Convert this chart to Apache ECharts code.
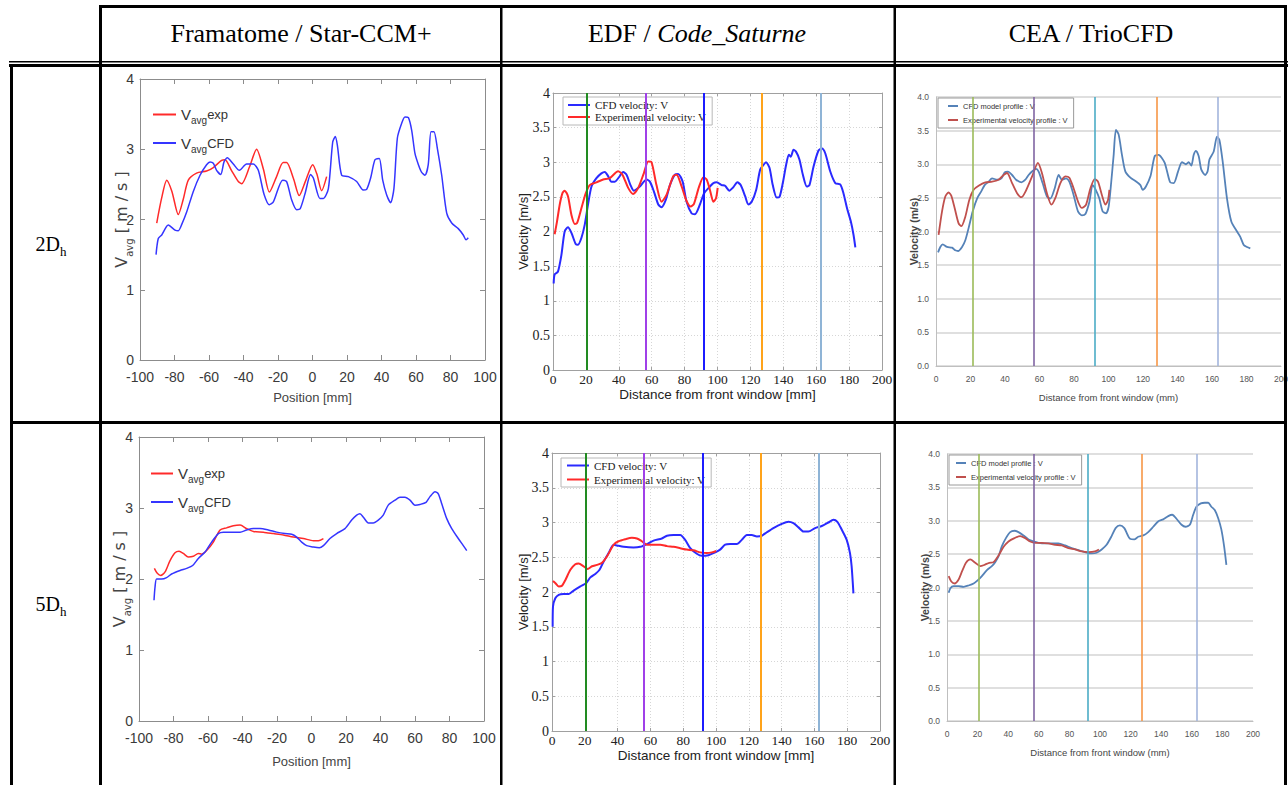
<!DOCTYPE html>
<html><head><meta charset="utf-8">
<script src="https://cdn.jsdelivr.net/npm/echarts@6/dist/echarts.min.js"></script>
<style>html,body{margin:0;padding:0;background:#fff;}#c{width:1288px;height:785px;}</style>
</head><body><div id="c"></div>
<script>
// ---------- text ----------
const headers = ['Framatome / Star-CCM+', 'EDF / ', 'Code_Saturne', 'CEA / TrioCFD'];
const rowLabels = ['2D', '5D'];
const rowSub = 'h';
// ---------- axis ranges [min,max,interval] ----------
const fraX = [-100, 100, 20];
const fraY = [0, 4, 1];
const edfX = [0, 200, 20];
const edfY = [0, 4, 0.5];
const ceaX = [0, 200, 20];
const ceaY = [0, 4, 0.5];
// ---------- vertical measurement planes (mm) ----------
const edfPlanes2 = [20.6, 56.1, 91.8, 127.2, 162.7];
const edfPlanes5 = [20.6, 56.2, 91.8, 127.3, 162.8];
const ceaPlanes2 = [21.3, 56.6, 92.2, 127.7, 163.1];
const ceaPlanes5 = [20.7, 56.5, 92.0, 127.2, 163.0];
// ---------- 2Dh data ----------
const fraExp2 = [[-90.3,1.95],[-87.5,2.3],[-84.5,2.56],[-81.5,2.4],[-77.8,2.07],[-75,2.28],[-72,2.56],[-67.2,2.66],[-61.4,2.69],[-57.5,2.74],[-52.7,2.84],[-50.7,2.85],[-47,2.7],[-43,2.54],[-41,2.51],[-36.5,2.75],[-32.4,3.0],[-28.5,2.72],[-25,2.39],[-21,2.6],[-17,2.81],[-15,2.81],[-11,2.58],[-7.7,2.34],[-4,2.55],[0.1,2.78],[2.5,2.65],[5.3,2.41],[8.2,2.61]];
const fraCfd2 = [[-90.7,1.50],[-89.4,1.73],[-87.4,1.78],[-83.6,1.92],[-79.7,1.85],[-77.8,1.84],[-75.8,1.93],[-72.9,2.11],[-69.1,2.40],[-65.2,2.63],[-61.4,2.78],[-59.4,2.82],[-57.5,2.80],[-55.6,2.70],[-53.2,2.64],[-51.3,2.82],[-49.4,2.88],[-45.9,2.79],[-42.4,2.70],[-38.2,2.79],[-34.3,2.79],[-31.4,2.70],[-28.1,2.36],[-25.0,2.21],[-22.7,2.25],[-17.3,2.56],[-15,2.54],[-12.1,2.28],[-9.2,2.14],[-7.2,2.15],[-4.3,2.37],[-1.1,2.64],[0.5,2.59],[4.3,2.30],[6.3,2.30],[9.2,2.44],[11.7,3.10],[13.2,3.18],[14.4,3.06],[16.9,2.63],[20.8,2.61],[25.6,2.54],[29.4,2.42],[31.4,2.43],[33.7,2.59],[36.2,2.85],[38.7,2.87],[40.7,2.56],[43,2.35],[45.3,2.24],[47.2,2.44],[49.2,3.16],[51.7,3.37],[53.6,3.46],[55.6,3.45],[57.5,3.27],[59.4,2.94],[61.4,2.78],[63.3,2.67],[65.2,2.63],[67.1,2.78],[68.7,3.25],[70.4,3.25],[72.4,3.01],[74.9,2.63],[77.8,2.09],[80.7,1.95],[84.5,1.87],[87.4,1.78],[89,1.71],[90.3,1.74]];
const edfCfd2 = [[0.4,1.25],[1.0,1.38],[3.0,1.42],[5.1,1.66],[7.1,2.0],[9.1,2.06],[11.2,1.98],[13.8,1.82],[15.2,1.81],[17.3,1.91],[19.3,2.10],[21.3,2.39],[23.4,2.65],[26.4,2.77],[29.4,2.84],[31.5,2.86],[33.5,2.80],[35.5,2.72],[37.6,2.72],[40.6,2.80],[42.6,2.86],[44.7,2.82],[47.1,2.67],[49.1,2.59],[52.8,2.65],[56.9,2.75],[58.9,2.72],[61.3,2.58],[64,2.39],[66,2.35],[68.6,2.46],[71.1,2.67],[74.1,2.82],[76.1,2.83],[78.8,2.72],[81.2,2.43],[84.3,2.26],[86.3,2.25],[89.3,2.39],[91.8,2.55],[95.4,2.65],[97.5,2.70],[99.5,2.71],[102.5,2.67],[104.6,2.66],[107.2,2.59],[109.6,2.64],[112.1,2.71],[114.1,2.67],[116.8,2.51],[118.8,2.39],[120.8,2.43],[123.5,2.60],[125.9,2.89],[127.9,2.96],[129.5,3.0],[131.6,2.92],[133.6,2.67],[136.0,2.49],[137.7,2.50],[139.7,2.70],[141.7,2.96],[143.4,3.11],[144.6,3.08],[146.2,3.18],[147.8,3.15],[149.8,3.04],[151.9,2.82],[154.3,2.65],[155.9,2.67],[158.4,2.94],[161.4,3.17],[163.5,3.20],[165.5,3.13],[168.5,2.87],[171.6,2.70],[174.6,2.68],[176.6,2.55],[178.7,2.34],[181.1,2.14],[182.7,1.95],[183.8,1.77]];
const edfExp2 = [[1.0,1.96],[2.4,2.14],[4.1,2.39],[5.7,2.55],[7.1,2.59],[9.1,2.51],[11.2,2.24],[13.2,2.11],[14.6,2.12],[17.3,2.34],[19.9,2.55],[22.3,2.67],[26.4,2.71],[30.5,2.75],[34.5,2.77],[39.6,2.87],[42.2,2.82],[45.7,2.63],[48.7,2.54],[51.8,2.63],[55.2,2.84],[57.9,3.01],[59.9,3.0],[62.9,2.67],[66,2.43],[69,2.53],[73.1,2.80],[75.1,2.82],[78.2,2.65],[81.2,2.44],[83.7,2.36],[85.7,2.40],[88.7,2.64],[91.4,2.78],[93.4,2.75],[95.4,2.60],[97.5,2.43],[99.1,2.48],[100.1,2.63]];
const ceaCfd2 = [[1.2,1.69],[2.5,1.77],[3.9,1.81],[6.4,1.77],[9.3,1.76],[11.2,1.72],[12.8,1.71],[15.1,1.77],[17,1.87],[18.9,2.05],[21.3,2.30],[23.8,2.49],[26.3,2.60],[28.2,2.69],[30.5,2.74],[32.5,2.79],[35.4,2.77],[37.9,2.79],[39.8,2.88],[41.7,2.89],[44.1,2.84],[46.4,2.77],[49.5,2.73],[51.8,2.77],[53.7,2.84],[56.0,2.90],[58.0,2.93],[59.5,2.89],[61.8,2.72],[64.3,2.52],[66.3,2.49],[68.8,2.64],[71.1,2.84],[73.0,2.77],[75.4,2.79],[77.3,2.74],[79.8,2.54],[82.3,2.30],[84.6,2.24],[86.6,2.26],[88.9,2.44],[90.8,2.69],[92.4,2.63],[94.7,2.49],[96.6,2.30],[98.6,2.27],[100.1,2.37],[101.6,2.74],[103.0,3.14],[104.3,3.51],[105.9,3.44],[107.8,3.14],[109.8,2.89],[112.7,2.80],[115.6,2.75],[118.5,2.69],[119.8,2.62],[121.7,2.67],[124.3,2.82],[126.8,3.12],[129.1,3.14],[131.0,3.09],[132.6,3.02],[133.9,2.90],[135.8,2.73],[137.8,2.72],[140.3,2.89],[142.6,3.03],[144.9,3.00],[146.5,3.03],[148.0,2.98],[149.4,3.14],[150.7,3.20],[152.3,3.12],[153.8,2.92],[156.1,2.84],[157.5,2.90],[158.5,3.07],[161.0,3.19],[162.9,3.41],[164.3,3.36],[166.2,3.04],[168.7,2.49],[171.2,2.15],[174.5,2.00],[176.4,1.92],[178.4,1.80],[180.3,1.77],[182.2,1.75]];
const ceaExp2 = [[1.5,1.95],[3.5,2.30],[5.4,2.52],[7.3,2.58],[8.9,2.53],[10.8,2.35],[13.1,2.12],[14.7,2.08],[17,2.22],[19.3,2.47],[21.8,2.62],[24.7,2.68],[28.6,2.73],[32.5,2.74],[36.3,2.77],[39.2,2.84],[41.2,2.87],[44.1,2.72],[47,2.57],[49.5,2.51],[51.8,2.59],[55.7,2.82],[59.1,3.02],[61.4,2.87],[64.3,2.57],[66.9,2.40],[69.2,2.50],[72.1,2.72],[75.0,2.82],[77.3,2.80],[79.8,2.64],[82.7,2.42],[84.6,2.35],[87.0,2.40],[89.5,2.64],[92.0,2.78],[93.9,2.74],[96.2,2.54],[98.2,2.40],[99.7,2.47],[100.5,2.62]];
// ---------- 5Dh data ----------
const fraExp5 = [[-91.1,2.15],[-89.4,2.08],[-87.4,2.05],[-84.9,2.10],[-82.0,2.26],[-79.1,2.37],[-76.8,2.39],[-74.3,2.36],[-71.4,2.31],[-68.5,2.32],[-65.6,2.36],[-63.7,2.35],[-60.8,2.40],[-56.9,2.52],[-53.0,2.69],[-49.2,2.72],[-45.3,2.75],[-41.4,2.76],[-37.6,2.71],[-33.7,2.67],[-27.9,2.66],[-22.1,2.64],[-16.3,2.62],[-10.5,2.59],[-4.7,2.57],[1.1,2.54],[4.0,2.54],[6.9,2.57]];
const fraCfd5 = [[-91.3,1.70],[-90.7,1.89],[-89.8,2.0],[-86.9,2.0],[-84.0,2.02],[-81.1,2.07],[-76.2,2.12],[-72.4,2.15],[-68.9,2.19],[-65.6,2.29],[-61.7,2.38],[-57.9,2.52],[-54.0,2.64],[-51.1,2.66],[-46.3,2.66],[-41.4,2.66],[-37.6,2.69],[-33.7,2.71],[-29.9,2.71],[-25.0,2.69],[-20.2,2.66],[-15.4,2.64],[-11.5,2.63],[-8.6,2.59],[-5.7,2.52],[-2.8,2.47],[1.1,2.45],[4.5,2.44],[6.9,2.47],[10.7,2.57],[14.6,2.64],[19.4,2.71],[23.3,2.83],[26.2,2.90],[28.1,2.92],[30.1,2.87],[33.0,2.79],[35.8,2.79],[38.7,2.83],[41.6,2.90],[44.5,3.04],[48.4,3.11],[51.3,3.15],[54.2,3.15],[57.1,3.11],[60.0,3.04],[62.9,3.05],[66.4,3.08],[68.7,3.16],[71.6,3.23],[73.5,3.20],[75.5,3.06],[78.4,2.85],[81.3,2.71],[85.1,2.57],[88.0,2.47],[90.0,2.40]];
const edfCfd5 = [[0.4,1.50],[0.6,1.79],[2.0,1.91],[4.1,1.96],[7.1,1.97],[10.2,1.97],[13.2,2.02],[17.3,2.08],[20.9,2.13],[23.4,2.21],[26.4,2.26],[29.0,2.32],[31.5,2.44],[34.5,2.56],[37.6,2.68],[39.6,2.67],[43.7,2.65],[49.7,2.64],[53.8,2.65],[57.9,2.69],[61.9,2.74],[67.0,2.77],[70.1,2.81],[74.1,2.82],[78.2,2.82],[81.2,2.75],[84.3,2.63],[88.3,2.55],[91.4,2.52],[95.4,2.53],[99.5,2.57],[102.5,2.61],[105.6,2.68],[108.6,2.69],[112.7,2.69],[115.7,2.75],[118.8,2.82],[121.8,2.82],[124.9,2.80],[127.9,2.81],[131.0,2.86],[135.0,2.92],[140.1,2.98],[144.2,3.01],[147.2,2.99],[150.3,2.93],[153.3,2.87],[156.3,2.87],[160.4,2.92],[164.5,2.95],[168.5,3.0],[171.6,3.04],[174.0,3.01],[176.6,2.90],[179.7,2.75],[181.7,2.56],[182.7,2.37],[183.8,1.98]];
const edfExp5 = [[0.6,2.16],[2.0,2.13],[4.1,2.08],[6.1,2.09],[8.1,2.17],[11.2,2.32],[14.2,2.40],[16.2,2.41],[19.3,2.37],[21.7,2.33],[24.4,2.37],[27.4,2.39],[30.5,2.42],[33.5,2.51],[37.6,2.68],[40.6,2.73],[44.7,2.76],[48.7,2.78],[51.8,2.77],[54.8,2.73],[57.9,2.68],[61.9,2.68],[66.0,2.68],[70.1,2.66],[74.1,2.65],[78.2,2.63],[82.2,2.61],[86.3,2.60],[90.4,2.57],[94.4,2.56],[97.5,2.57],[100.1,2.59]];
const ceaCfd5 = [[1.1,1.92],[2.2,1.99],[4.3,2.02],[7.6,2.02],[10.9,2.01],[14.1,2.03],[17.4,2.06],[20.2,2.11],[22.8,2.17],[26.1,2.26],[29.3,2.32],[31.5,2.38],[33.7,2.47],[35.9,2.62],[38.5,2.74],[41.3,2.83],[44.1,2.85],[46.7,2.83],[50.0,2.78],[53.3,2.72],[56.5,2.69],[59.8,2.67],[64.1,2.66],[68.5,2.66],[72.8,2.66],[77.2,2.63],[81.5,2.59],[85.9,2.56],[90.2,2.53],[94.6,2.51],[97.8,2.52],[101.1,2.57],[104.3,2.64],[107.6,2.77],[110.2,2.89],[113.0,2.93],[115.9,2.89],[118.0,2.79],[119.6,2.73],[122.4,2.72],[125.0,2.76],[128.3,2.78],[131.5,2.83],[134.8,2.91],[138.0,2.99],[141.3,3.02],[144.6,3.07],[147.2,3.09],[150.0,3.03],[153.3,2.94],[155.9,2.91],[158.7,2.94],[160.9,3.09],[163.0,3.21],[165.9,3.26],[168.5,3.27],[170.7,3.27],[172.8,3.21],[175.0,3.16],[177.2,3.04],[179.3,2.87],[181.1,2.62],[182.6,2.34]];
const ceaExp5 = [[1.1,2.17],[2.8,2.09],[5.0,2.06],[7.6,2.12],[9.8,2.24],[12.4,2.37],[15.2,2.42],[18.5,2.37],[21.7,2.32],[24.6,2.34],[27.6,2.37],[30.4,2.38],[33.7,2.48],[37.0,2.61],[40.2,2.69],[44.1,2.74],[47.8,2.77],[51.1,2.74],[54.3,2.69],[57.6,2.67],[62.0,2.67],[66.3,2.66],[70.7,2.64],[75.0,2.63],[79.3,2.59],[83.7,2.57],[88.0,2.54],[92.4,2.53],[96.7,2.54],[99.3,2.57]];

// ---------- styles ----------
const SERIF = "'Liberation Serif','Times New Roman',serif";
const SANS = "'Liberation Sans',Arial,sans-serif";
const DEJAVU = "'DejaVu Sans',sans-serif";
const edfPlaneColors = ['#228b22', '#a040e8', '#1c1cff', '#ffa31a', '#8fb4d6'];
const ceaPlaneColors = ['#9bbb59', '#8064a2', '#4bacc6', '#f79646', '#a3b5dc'];

const grids = [], xAxes = [], yAxes = [], series = [], legends = [];
const legendText = {};

function rng(r) { return { min: r[0], max: r[1], interval: r[2] }; }

function addPanel(p) {
  const gi = grids.length;
  grids.push(Object.assign({ outerBoundsMode: 'none', containLabel: false }, p.grid));
  const xi = xAxes.length, yi = yAxes.length;
  let lineW = 1.6;
  const base = { gridIndex: gi, type: 'value', nameMoveOverlap: false };
  if (p.kind === 'fra') {
    const frame = { show: true, onZero: false, lineStyle: { color: '#8c8c8c', width: 1 } };
    const tick = { show: true, inside: true, length: 5, lineStyle: { color: '#8c8c8c' } };
    xAxes.push(Object.assign({}, base, { position: 'bottom', axisLine: frame, axisTick: tick,
      axisLabel: { color: '#3a3a3a', fontFamily: SANS, fontSize: 14, margin: 10 }, splitLine: { show: false },
      name: 'Position [mm]', nameLocation: 'middle', nameGap: p.xGap,
      nameTextStyle: { fontFamily: SANS, fontSize: 13, color: '#444' } }, rng(fraX)));
    xAxes.push(Object.assign({}, base, { position: 'top', axisLine: frame, axisTick: tick,
      axisLabel: { show: false }, splitLine: { show: false } }, rng(fraX)));
    yAxes.push(Object.assign({}, base, { position: 'left', axisLine: frame, axisTick: tick,
      axisLabel: { color: '#3a3a3a', fontFamily: SANS, fontSize: 14, margin: 6 }, splitLine: { show: false },
      name: '{n|V}{s|avg}{n| [ m / s ]}', nameLocation: 'middle', nameGap: p.yGap,
      nameTextStyle: { fontFamily: DEJAVU, fontSize: 16, color: '#444',
        rich: { n: { fontFamily: DEJAVU, fontSize: 16, color: '#444', verticalAlign: 'top', padding: [0, 0, 5, 0] },
                s: { fontFamily: DEJAVU, fontSize: 10, color: '#444', verticalAlign: 'bottom', padding: [10, 0, 0, 0] } } } }, rng(fraY)));
    yAxes.push(Object.assign({}, base, { position: 'right', axisLine: frame, axisTick: tick,
      axisLabel: { show: false }, splitLine: { show: false } }, rng(fraY)));
    lineW = 1.5;
  } else if (p.kind === 'edf') {
    const frame = { show: true, onZero: false, lineStyle: { color: '#a0a0a0', width: 1 } };
    const tick = { show: true, inside: true, length: 3, lineStyle: { color: '#a0a0a0' } };
    const grid = { show: true, lineStyle: { color: '#d6d6d6', type: [1, 2], width: 1 } };
    xAxes.push(Object.assign({}, base, { position: 'bottom', axisLine: frame, axisTick: tick,
      axisLabel: { color: '#222', fontFamily: SERIF, fontSize: 13.5, margin: 2 }, splitLine: grid,
      name: 'Distance from front window [mm]', nameLocation: 'middle', nameGap: p.xGap,
      nameTextStyle: { fontFamily: SANS, fontSize: 13.5, color: '#222' } }, rng(edfX)));
    xAxes.push(Object.assign({}, base, { position: 'top', axisLine: frame, axisTick: tick,
      axisLabel: { show: false }, splitLine: { show: false } }, rng(edfX)));
    yAxes.push(Object.assign({}, base, { position: 'left', axisLine: frame, axisTick: tick,
      axisLabel: { color: '#222', fontFamily: SERIF, fontSize: 14, margin: 3 }, splitLine: grid,
      name: 'Velocity [m/s]', nameLocation: 'middle', nameGap: p.yGap,
      nameTextStyle: { fontFamily: SANS, fontSize: 13, color: '#222' } }, rng(edfY)));
    yAxes.push(Object.assign({}, base, { position: 'right', axisLine: frame, axisTick: tick,
      axisLabel: { show: false }, splitLine: { show: false } }, rng(edfY)));
    lineW = 2;
  } else {
    xAxes.push(Object.assign({}, base, { position: 'bottom',
      axisLine: { show: true, onZero: false, lineStyle: { color: '#bfbfbf', width: 1 } }, axisTick: { show: false },
      axisLabel: { color: '#555', fontFamily: SANS, fontSize: 8.5, margin: 8 }, splitLine: { show: false },
      name: 'Distance from front window (mm)', nameLocation: 'middle', nameGap: p.xGap,
      nameTextStyle: { fontFamily: SANS, fontSize: 9.5, color: '#444' } }, rng(ceaX)));
    yAxes.push(Object.assign({}, base, { position: 'left',
      axisLine: { show: true, onZero: false, lineStyle: { color: '#bfbfbf', width: 1 } }, axisTick: { show: false },
      axisLabel: { color: '#555', fontFamily: SANS, fontSize: 8.5, margin: 7, formatter: v => v.toFixed(1) },
      splitLine: { show: true, lineStyle: { color: '#d4d4d4', width: 1.6 } },
      name: 'Velocity (m/s)', nameLocation: 'middle', nameGap: p.yGap,
      nameTextStyle: { fontFamily: SANS, fontSize: 10.5, fontWeight: 'bold', color: '#444' } }, rng(ceaY)));
    lineW = 1.8;
  }
  // measurement planes
  if (p.planes) {
    series.push({ type: 'line', xAxisIndex: xi, yAxisIndex: yi, data: [], z: 1, silent: true,
      markLine: { silent: true, symbol: ['none', 'none'], animation: false, label: { show: false },
        data: p.planes.map((v, k) => ({ xAxis: v, lineStyle: { color: p.planeColors[k], width: p.kind === 'edf' ? 2 : 1.6, type: 'solid' } })) } });
  }
  p.curves.forEach(c => {
    legendText[c.id] = c.label;
    series.push({ type: 'line', name: c.id, xAxisIndex: xi, yAxisIndex: yi, data: c.data, showSymbol: false, symbol: 'none',
      smooth: 0.25, z: 3, color: c.color, itemStyle: { color: c.color }, lineStyle: { color: c.color, width: lineW } });
  });
  legends.push(Object.assign({ data: p.curves.map(c => c.id), orient: 'vertical', icon: 'rect', selectedMode: false,
    formatter: n => legendText[n] }, p.legend));
}

const fraLegendStyle = { fontFamily: SANS, color: '#333',
  rich: { v: { fontFamily: SANS, fontSize: 15, color: '#333', verticalAlign: 'middle' },
          s: { fontFamily: SANS, fontSize: 10, color: '#333', verticalAlign: 'middle', padding: [12, 0, 0, 0] },
          e: { fontFamily: SANS, fontSize: 13, color: '#333', verticalAlign: 'middle' } } };

addPanel({ kind: 'fra', grid: { left: 140, top: 79, width: 345, height: 281 }, xGap: 31, yGap: 6,
  curves: [{ id: 'fra2e', label: '{v|V}{s|avg}{e|exp}', data: fraExp2, color: '#ff2a2a' },
           { id: 'fra2c', label: '{v|V}{s|avg}{e|CFD}', data: fraCfd2, color: '#3535ff' }],
  legend: { left: 153, top: 107, itemWidth: 23, itemHeight: 2, itemGap: 10, padding: 0, textStyle: fraLegendStyle } });
addPanel({ kind: 'edf', grid: { left: 553, top: 93, width: 329, height: 277 }, xGap: 17, yGap: 23,
  planes: edfPlanes2, planeColors: edfPlaneColors,
  curves: [{ id: 'edf2c', label: 'CFD velocity: V', data: edfCfd2, color: '#2a2aff' },
           { id: 'edf2e', label: 'Experimental velocity: V', data: edfExp2, color: '#ff2a2a' }],
  legend: { left: 563, top: 97, itemWidth: 22, itemHeight: 2, itemGap: 0, padding: [2, 6, 2, 5],
    borderColor: '#b8b8b8', borderWidth: 1, backgroundColor: '#fff',
    textStyle: { fontFamily: SERIF, fontSize: 11, color: '#222', lineHeight: 12 } } });
addPanel({ kind: 'cea', grid: { left: 936, top: 97, width: 345, height: 269 }, xGap: 26, yGap: 17,
  planes: ceaPlanes2, planeColors: ceaPlaneColors,
  curves: [{ id: 'cea2c', label: 'CFD model profile : V', data: ceaCfd2, color: '#5582b8' },
           { id: 'cea2e', label: 'Experimental velocity profile : V', data: ceaExp2, color: '#c0504d' }],
  legend: { left: 938, top: 98, itemWidth: 10, itemHeight: 2, itemGap: 2, padding: [2, 6, 2, 10],
    borderColor: '#9a9a9a', borderWidth: 1, backgroundColor: '#fff',
    textStyle: { fontFamily: SANS, fontSize: 7.5, color: '#333', lineHeight: 12 } } });
addPanel({ kind: 'fra', grid: { left: 139, top: 437, width: 345, height: 284 }, xGap: 34, yGap: 7,
  curves: [{ id: 'fra5e', label: '{v|V}{s|avg}{e|exp}', data: fraExp5, color: '#ff2a2a' },
           { id: 'fra5c', label: '{v|V}{s|avg}{e|CFD}', data: fraCfd5, color: '#3535ff' }],
  legend: { left: 151, top: 466, itemWidth: 22, itemHeight: 2, itemGap: 10, padding: 0, textStyle: fraLegendStyle } });
addPanel({ kind: 'edf', grid: { left: 552, top: 453, width: 328, height: 278 }, xGap: 17, yGap: 22,
  planes: edfPlanes5, planeColors: edfPlaneColors,
  curves: [{ id: 'edf5c', label: 'CFD velocity: V', data: edfCfd5, color: '#2a2aff' },
           { id: 'edf5e', label: 'Experimental velocity: V', data: edfExp5, color: '#ff2a2a' }],
  legend: { left: 561, top: 458, itemWidth: 22, itemHeight: 2, itemGap: 1, padding: [1, 6, 1, 6],
    borderColor: '#b8b8b8', borderWidth: 1, backgroundColor: '#fff',
    textStyle: { fontFamily: SERIF, fontSize: 11, color: '#222', lineHeight: 13 } } });
addPanel({ kind: 'cea', grid: { left: 947, top: 454, width: 306, height: 267 }, xGap: 26, yGap: 17,
  planes: ceaPlanes5, planeColors: ceaPlaneColors,
  curves: [{ id: 'cea5c', label: 'CFD model profile : V', data: ceaCfd5, color: '#5582b8' },
           { id: 'cea5e', label: 'Experimental velocity profile : V', data: ceaExp5, color: '#c0504d' }],
  legend: { left: 949, top: 455, itemWidth: 10, itemHeight: 2, itemGap: 2, padding: [2, 6, 2, 7],
    borderColor: '#9a9a9a', borderWidth: 1, backgroundColor: '#fff',
    textStyle: { fontFamily: SANS, fontSize: 7.5, color: '#333', lineHeight: 12 } } });

// ---------- table ----------
function bar(x, y, w, h) { return { type: 'rect', z: 100, silent: true, shape: { x: x, y: y, width: w, height: h }, style: { fill: '#000' } }; }
const graphics = [
  bar(99, 5, 1188, 3),      // header top
  bar(99, 5, 3, 780),       // first column right / header left
  bar(1284, 5, 3, 780),     // right border
  bar(500, 5, 2.5, 780),    // column separator
  bar(893.5, 5, 2.5, 780),  // column separator
  bar(9, 61, 1279, 1.6),    // double rule (thin)
  bar(9, 64, 1279, 3),      // double rule (thick)
  bar(10, 64, 3, 721),      // body left
  bar(10, 421, 1277, 3)     // row separator
];
const hStyle = { fontFamily: SERIF, fontSize: 26, fill: '#000', align: 'center', verticalAlign: 'middle' };
graphics.push({ type: 'text', z: 100, x: 301, y: 33, style: Object.assign({ text: headers[0] }, hStyle) });
graphics.push({ type: 'text', z: 100, x: 697, y: 33, style: Object.assign({}, hStyle, {
  text: '{n|' + headers[1] + '}{i|' + headers[2] + '}',
  rich: { n: { fontFamily: SERIF, fontSize: 26, fill: '#000' }, i: { fontFamily: SERIF, fontSize: 26, fontStyle: 'italic', fill: '#000' } } }) });
graphics.push({ type: 'text', z: 100, x: 1091, y: 33, style: Object.assign({ text: headers[3] }, hStyle) });
const rStyle = { rich: { n: { fontFamily: SERIF, fontSize: 20, fill: '#000', verticalAlign: 'top', padding: [0, 0, 4, 0] },
                         s: { fontFamily: SERIF, fontSize: 13, fill: '#000', verticalAlign: 'bottom', padding: [11, 0, 0, 0] } },
  align: 'center', verticalAlign: 'middle' };
graphics.push({ type: 'text', z: 100, x: 51, y: 246, style: Object.assign({ text: '{n|' + rowLabels[0] + '}{s|' + rowSub + '}' }, rStyle) });
graphics.push({ type: 'text', z: 100, x: 51, y: 606, style: Object.assign({ text: '{n|' + rowLabels[1] + '}{s|' + rowSub + '}' }, rStyle) });

const chart = echarts.init(document.getElementById('c'), null, { renderer: 'svg', width: 1288, height: 785 });
chart.setOption({
  animation: false,
  backgroundColor: '#fff',
  grid: grids, xAxis: xAxes, yAxis: yAxes, series: series, legend: legends,
  graphic: graphics
});
</script></body></html>
